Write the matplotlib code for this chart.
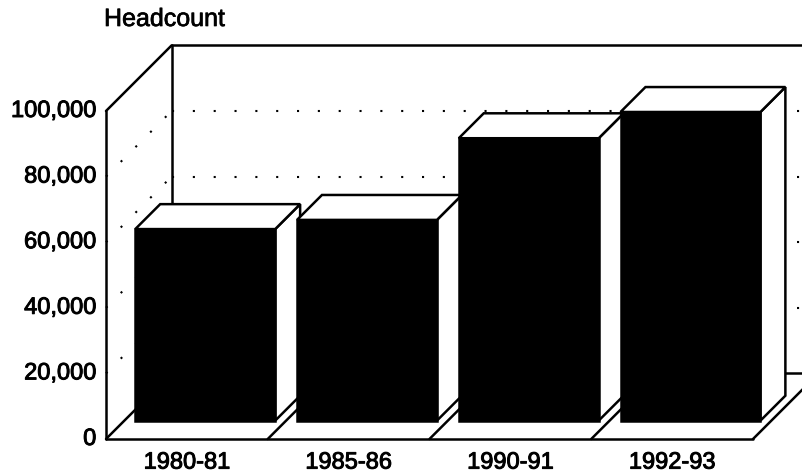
import matplotlib
matplotlib.use('Agg')
import matplotlib.pyplot as plt
import matplotlib.patheffects as pe
from matplotlib.patches import Polygon

# data
years = ['1980-81', '1985-86', '1990-91', '1992-93']
headcount = [58400, 61200, 86100, 94100]
y_ticks = [0, 20000, 40000, 60000, 80000, 100000]
y_max = 100000

plt.rcParams['font.family'] = ['Liberation Sans', 'DejaVu Sans']

W, H = 802, 474
fig = plt.figure(figsize=(W/100, H/100), dpi=100)
ax = fig.add_axes([0, 0, 1, 1])
ax.axis('off')

# pixel scale of the scanned chart: one category step and value units
cat_px = 161.75
val_px = 328/100000
x0_px, y0_px = 106, 439
ax.set_xlim(-x0_px/cat_px, (W-x0_px)/cat_px)
ax.set_ylim(-(H-y0_px)/val_px, y0_px/val_px)

n = len(years)
DY = 20000                       # depth of the box in value units
DX = DY*val_px/cat_px            # same depth in category units (45 deg)
bar_w = 0.865
d_front, d_back = 0.28, 0.66     # bar position inside the depth
lw = 1.8
k = dict(color='black', lw=lw, solid_capstyle='round', zorder=2)
dots = dict(color='black', lw=1.5, linestyle=(0, (1, 9)), zorder=1)
txt = dict(fontsize=17, color='black',
           path_effects=[pe.withStroke(linewidth=0.7, foreground='black')])

# walls and floor
ax.plot([0, 0], [0, y_max], **k)
ax.plot([0, DX], [y_max, y_max+DY], **k)
ax.plot([DX, DX], [DY, y_max+DY], **k)
ax.plot([DX, n+DX], [y_max+DY, y_max+DY], **k)
ax.plot([n+DX, n+DX], [DY, y_max+DY], **k)
ax.plot([DX, n+DX], [DY, DY], **k)
ax.plot([0, n], [0, 0], **k)
for c in range(n+1):
    ax.plot([c, c+DX], [0, DY], **k)

# gridlines on side and back wall
for v in y_ticks[1:-1]:
    ax.plot([0, DX], [v, v+DY], **dots)
    ax.plot([DX, n+DX], [v+DY, v+DY], **dots)

for v in y_ticks:
    ax.annotate(f'{v:,}', xy=(0, v), xytext=(-7, 0), textcoords='offset points',
                ha='right', va='center', **txt)

# bars
fx, fy = d_front*DX, d_front*DY
bx, by = (d_back-d_front)*DX, (d_back-d_front)*DY
for i, v in enumerate(headcount):
    x = i + (1-bar_w)/2 + fx
    base, top = fy, v + fy
    z = 3 + i
    ax.add_patch(Polygon([(x+bar_w, base), (x+bar_w+bx, base+by), (x+bar_w+bx, top+by), (x+bar_w, top)],
                         closed=True, fc='white', ec='black', lw=lw, zorder=z))
    ax.add_patch(Polygon([(x, top), (x+bx, top+by), (x+bar_w+bx, top+by), (x+bar_w, top)],
                         closed=True, fc='white', ec='black', lw=lw, zorder=z))
    ax.add_patch(Polygon([(x, base), (x+bar_w, base), (x+bar_w, top), (x, top)],
                         closed=True, fc='black', ec='black', lw=lw, zorder=z))
    ax.annotate(years[i], xy=(i+0.5, 0), xytext=(0, -17), textcoords='offset points',
                ha='center', va='center', **txt)

fig.text(104/W, 1-19/H, 'Headcount', ha='left', va='center', fontsize=18, color='black',
         path_effects=[pe.withStroke(linewidth=0.5, foreground='black')])

fig.savefig('out.png', dpi=100, facecolor='white')
